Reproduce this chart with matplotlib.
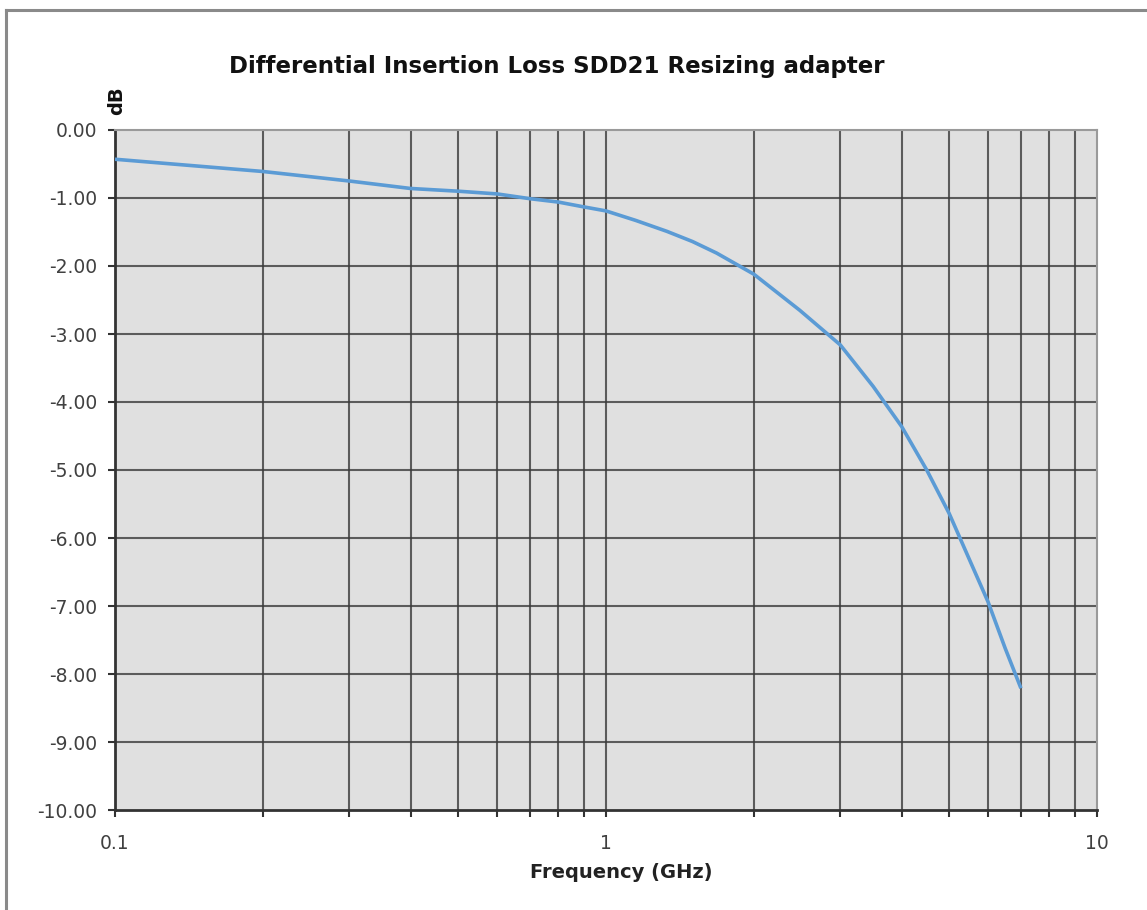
import matplotlib
matplotlib.use("Agg")
import matplotlib.pyplot as plt
from matplotlib.lines import Line2D
import numpy as np

freq_ghz = [0.1, 0.2, 0.3, 0.4, 0.5, 0.6, 0.7, 0.8, 0.9, 1.0, 1.15, 1.33, 1.5, 1.68, 2.0, 2.48,
            3.0, 3.5, 4.0, 4.5, 5.0, 5.5, 6.0, 6.5, 7.0]
sdd21_db = [-0.43, -0.61, -0.75, -0.86, -0.90, -0.94, -1.01, -1.06, -1.13, -1.19, -1.33, -1.49,
            -1.64, -1.81, -2.12, -2.65, -3.16, -3.77, -4.36, -5.00, -5.64, -6.32, -6.94, -7.62, -8.21]

title = "Differential Insertion Loss SDD21 Resizing adapter"
xlabel = "Frequency (GHz)"
ylabel = "dB"
yticks = [0, -1, -2, -3, -4, -5, -6, -7, -8, -9, -10]

W, H = 1147, 910
fig = plt.figure(figsize=(W / 100, H / 100), dpi=100)
fig.patch.set_facecolor("white")

ax = fig.add_axes([115 / W, 1 - 810 / H, (1097 - 115) / W, (810 - 130) / H])
ax.set_facecolor("#e0e0e0")

# figure border (top and left)
fig.add_artist(Line2D([6 / W, 1.0], [1 - 10 / H, 1 - 10 / H], color="#8a8a8a", lw=2.2))
fig.add_artist(Line2D([6 / W, 6 / W], [1 - 10 / H, 0], color="#8a8a8a", lw=2.2))

ax.set_xscale("log")
ax.set_xlim(0.1, 10)
ax.set_ylim(-10, 0)

# grid lines
grid_color = "#3a3a3a"
for d in [0.1, 1.0]:
    for m in range(1, 10):
        v = d * m
        if 0.1 < v < 10:
            ax.axvline(v, color=grid_color, lw=1.5, alpha=0.8, zorder=1)
for yv in yticks:
    if -10 < yv < 0:
        ax.axhline(yv, color=grid_color, lw=1.5, alpha=0.8, zorder=1)

ax.plot(freq_ghz, sdd21_db, color="#5b9bd5", lw=2.6, zorder=3,
        solid_joinstyle="round", solid_capstyle="butt")

ax.set_yticks(yticks)
ax.set_yticklabels([f"{v:.2f}" for v in yticks])
ax.set_xticks([0.1, 1, 10])
ax.set_xticklabels(["0.1", "1", "10"])
ax.xaxis.set_minor_locator(matplotlib.ticker.LogLocator(base=10, subs=np.arange(2, 10)))
ax.xaxis.set_minor_formatter(matplotlib.ticker.NullFormatter())

ax.tick_params(axis="both", which="both", direction="out", colors="#333333",
               labelcolor="#404040", labelsize=13.5, length=5, width=1.5)
ax.tick_params(axis="x", which="major", pad=12)
ax.tick_params(axis="y", which="major", pad=8)
ax.tick_params(axis="x", which="minor", length=5)

for side in ["left", "bottom"]:
    ax.spines[side].set_color("#333333")
    ax.spines[side].set_linewidth(2)
for side in ["right", "top"]:
    ax.spines[side].set_color("#9a9a9a")
    ax.spines[side].set_linewidth(1.5)

fig.text(557 / W, 1 - 67 / H, title, ha="center", va="center",
         fontsize=16.5, fontweight="bold", color="#111111")
fig.text(117 / W, 1 - 101 / H, ylabel, ha="center", va="center", rotation=90,
         fontsize=14, fontweight="bold", color="#111111")
fig.text(621 / W, 1 - 872 / H, xlabel, ha="center", va="center",
         fontsize=14, fontweight="bold", color="#222222")

fig.savefig("out.png", dpi=100)
